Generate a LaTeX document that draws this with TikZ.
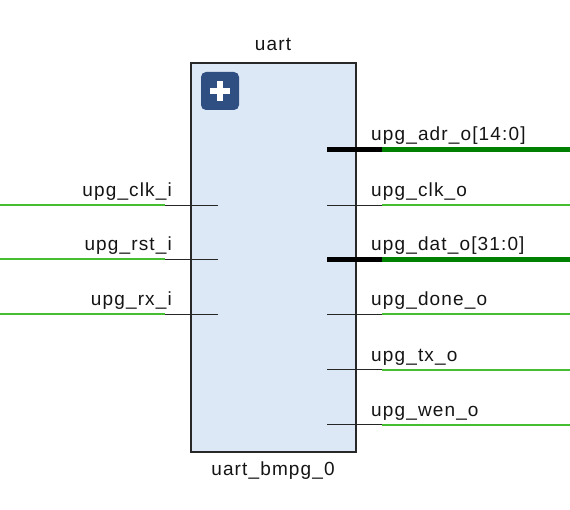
\documentclass[tikz,border=0pt]{standalone}
\usepackage{fontspec}
\newfontfamily\lblfont[LetterSpace=6]{Liberation Sans}
\definecolor{boxfill}{RGB}{221,232,246}
\definecolor{boxline}{RGB}{40,40,40}
\definecolor{wiregreen}{RGB}{70,190,50}
\definecolor{busgreen}{RGB}{0,128,0}
\definecolor{iconblue}{RGB}{47,78,130}
\tikzset{
  blockbox/.style={draw=boxline, line width=1.2pt, fill=boxfill, minimum width=165pt, minimum height=389pt, inner sep=0pt},
  pinstub/.style={draw=black!85, line width=1.3pt},
  busstub/.style={draw=black, line width=5pt},
  netwire/.style={draw=wiregreen, line width=2pt},
  netbus/.style={draw=busgreen, line width=5pt},
  lbl/.style={font=\lblfont\fontsize{19}{22}\selectfont, inner sep=0pt, text=black!92},
}
\begin{document}
\begin{tikzpicture}[x=1pt,y=-1pt]
\useasboundingbox (0,0) rectangle (570,510);
% block
\node[blockbox] (blk) at (273.5,257.5) {};
\node[lbl, anchor=base] (title) at (273,50.5) {uart};
\node[lbl, anchor=base] (inst) at (273,475) {uart\_bmpg\_0};
% plus icon
\node[fill=iconblue, rounded corners=5pt, minimum size=38pt, inner sep=0pt] (icon) at (220,91) {};
\fill[white] ([xshift=-10pt,yshift=-2.8pt]icon.center) rectangle ([xshift=10pt,yshift=2.8pt]icon.center);
\fill[white] ([xshift=-2.8pt,yshift=-10pt]icon.center) rectangle ([xshift=2.8pt,yshift=10pt]icon.center);
% inputs
\foreach \nm/\yy/\txt in {clki/205.5/upg\_clk\_i, rsti/259.5/upg\_rst\_i, rxi/314.5/upg\_rx\_i}{
  \coordinate (\nm L) at (0,\yy);
  \coordinate (\nm S) at (165,\yy);
  \coordinate (\nm E) at (218,\yy);
  \draw[netwire] (\nm L) -- (\nm S);
  \draw[pinstub] (\nm S) -- (\nm E);
  \node[lbl, anchor=base east] (\nm lbl) at (172,\yy-8.5) {\txt};
}
% single-bit outputs
\foreach \nm/\yy/\txt in {clko/205.5/upg\_clk\_o, doneo/314.5/upg\_done\_o, txo/369.5/upg\_tx\_o, weno/424.5/upg\_wen\_o}{
  \coordinate (\nm S) at (327,\yy);
  \coordinate (\nm E) at (382,\yy);
  \coordinate (\nm R) at (570,\yy);
  \draw[pinstub] (\nm S) -- (\nm E);
  \draw[netwire] (\nm E) -- (\nm R);
  \node[lbl, anchor=base west] (\nm lbl) at (371,\yy-8.5) {\txt};
}
% bus outputs
\foreach \nm/\yy/\txt in {adro/149.5/upg\_adr\_o[14:0], dato/259.5/upg\_dat\_o[31:0]}{
  \coordinate (\nm S) at (327,\yy);
  \coordinate (\nm E) at (382,\yy);
  \coordinate (\nm R) at (570,\yy);
  \draw[busstub] (\nm S) -- (\nm E);
  \draw[netbus] (\nm E) -- (\nm R);
  \node[lbl, anchor=base west] (\nm lbl) at (371,\yy-8.5) {\txt};
}
\end{tikzpicture}
\end{document}
